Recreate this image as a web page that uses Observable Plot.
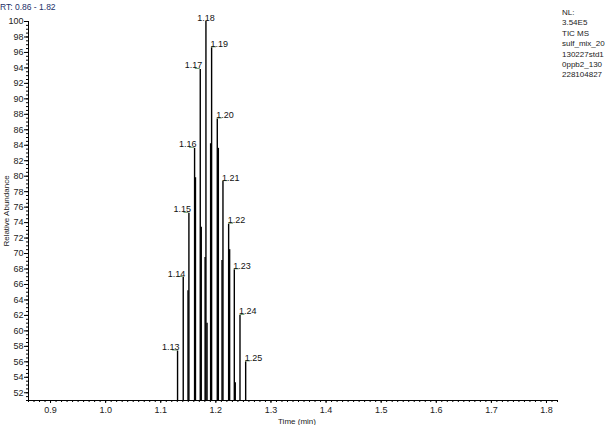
<!DOCTYPE html>
<html><head><meta charset="utf-8">
<script src="https://cdn.jsdelivr.net/npm/d3@7"></script>
<script src="https://cdn.jsdelivr.net/npm/@observablehq/plot@0.6"></script>
<style>html,body{margin:0;padding:0;background:#fff} svg{display:block}</style>
</head><body><div id="chart"></div>
<script>
// Labelled apex sticks
const peakTimes  = [1.1305, 1.1408, 1.1511, 1.1614, 1.1717, 1.1820, 1.1923, 1.2026, 1.2129, 1.2232, 1.2335, 1.2438, 1.2541];
const peakValues = [57.4, 66.9, 75.2, 83.6, 93.8, 100, 96.6, 87.4, 79.3, 73.8, 67.9, 62.0, 56.0];
const peakLabels = ["1.13","1.14","1.15","1.16","1.17","1.18","1.19","1.20","1.21","1.22","1.23","1.24","1.25"];
const peakSides  = ["left","left","left","left","left","mid","right","right","right","right","right","right","right"];
// Unlabelled neighbouring scans
const shoulderTimes  = [1.1495, 1.1630, 1.1735, 1.1805, 1.1840, 1.1905, 1.2045, 1.2112, 1.2250, 1.2352];
const shoulderValues = [65.2, 79.8, 73.4, 69.5, 61.0, 84.2, 83.6, 69.1, 70.5, 53.3];
// Axes
const yMajorTicks = [52,54,56,58,60,62,64,66,68,70,72,74,76,78,80,82,84,86,88,90,92,94,96,98,100];
const xMajorTicks = [0.9,1.0,1.1,1.2,1.3,1.4,1.5,1.6,1.7,1.8];
const xTickLabels = ["0.9","1.0","1.1","1.2","1.3","1.4","1.5","1.6","1.7","1.8"];
const xDomain = [0.86, 1.82];
const yDomain = [51, 100];
const rangeText = "RT: 0.86 - 1.82";
const infoLines = ["NL:", "3.54E5", "TIC MS", "sulf_mix_20", "130227std1", "0ppb2_130", "228104827"];
const xTitle = "Time (min)";
const yTitle = "Relative Abundance";

const peaks = peakTimes.map((t, i) => ({t, v: peakValues[i], label: peakLabels[i], side: peakSides[i]}));
const shoulders = shoulderTimes.map((t, i) => ({t, v: shoulderValues[i]}));
const sticks = peaks.concat(shoulders);
const yMinor = d3.range(yDomain[0] * 2, yDomain[1] * 2 + 1).map(d => d / 2);
const xMinor = d3.range(Math.round(xDomain[0] * 100), Math.round(xDomain[1] * 100) + 1).map(d => d / 100);
const font = "'Liberation Sans', Arial, sans-serif";
const leader = "#6a976a";

const chart = Plot.plot({
  width: 605, height: 425,
  marginLeft: 28, marginRight: 48, marginTop: 21, marginBottom: 25,
  style: {fontFamily: font, fontSize: "9px", color: "#222", background: "#fff", overflow: "visible"},
  x: {domain: xDomain, label: null},
  y: {domain: yDomain, label: null},
  marks: [
    Plot.axisY({ticks: yMinor, tickSize: 2, tickFormat: () => "", label: null, stroke: "#000"}),
    Plot.axisY({ticks: yMajorTicks, tickSize: 4, tickPadding: 1, tickFormat: d => String(d), label: null, stroke: "#000", fill: "#222"}),
    Plot.axisX({ticks: xMinor, tickSize: 2, tickFormat: () => "", label: null, stroke: "#000"}),
    Plot.axisX({ticks: xMajorTicks, tickSize: 3, tickPadding: 3, tickFormat: d => xTickLabels[xMajorTicks.indexOf(d)], label: null, stroke: "#000", fill: "#222"}),
    Plot.ruleX([xDomain[0]], {y1: yDomain[0], y2: yDomain[1], stroke: "#000"}),
    Plot.ruleY([yDomain[0]], {x1: xDomain[0], x2: xDomain[1], stroke: "#000"}),
    Plot.ruleX(sticks, {x: "t", y1: yDomain[0], y2: "v", stroke: "#000", strokeWidth: 1.4}),
    Plot.ruleY(peaks.filter(d => d.side === "left"), {x1: d => d.t - 0.009, x2: "t", y: "v", dy: -1, stroke: leader, strokeWidth: 1}),
    Plot.ruleY(peaks.filter(d => d.side === "right"), {x1: "t", x2: d => d.t + 0.009, y: "v", dy: -1, stroke: leader, strokeWidth: 1}),
    Plot.text(peaks.filter(d => d.side === "left"), {x: "t", y: "v", text: "label", textAnchor: "end", lineAnchor: "bottom", dx: 2, dy: -1, fill: "#111", fontSize: 9}),
    Plot.text(peaks.filter(d => d.side === "mid"), {x: "t", y: "v", text: "label", textAnchor: "middle", lineAnchor: "bottom", dx: 0, dy: -1, fill: "#111", fontSize: 9}),
    Plot.text(peaks.filter(d => d.side === "right"), {x: "t", y: "v", text: "label", textAnchor: "start", lineAnchor: "bottom", dx: -1, dy: -1, fill: "#111", fontSize: 9})
  ]
});

const svg = d3.select(chart);
svg.append("text").attr("x", 0).attr("y", 10).attr("text-anchor", "start").attr("font-size", 8.5)
  .attr("font-family", font).attr("fill", "#22306a").text(rangeText);
const info = svg.append("g").attr("font-size", 8).attr("font-family", font).attr("fill", "#222").attr("text-anchor", "start");
infoLines.forEach((s, i) => info.append("text").attr("x", 562).attr("y", 15 + i * 10.4).attr("text-anchor", "start").text(s));
svg.append("text").attr("x", 297).attr("y", 424).attr("text-anchor", "middle").attr("font-size", 8)
  .attr("font-family", font).attr("fill", "#222").text(xTitle);
svg.append("text").attr("transform", "translate(9,211) rotate(-90)").attr("text-anchor", "middle")
  .attr("font-size", 8).attr("font-family", font).attr("fill", "#222").text(yTitle);

document.getElementById("chart").appendChild(chart);
</script>
</body></html>
